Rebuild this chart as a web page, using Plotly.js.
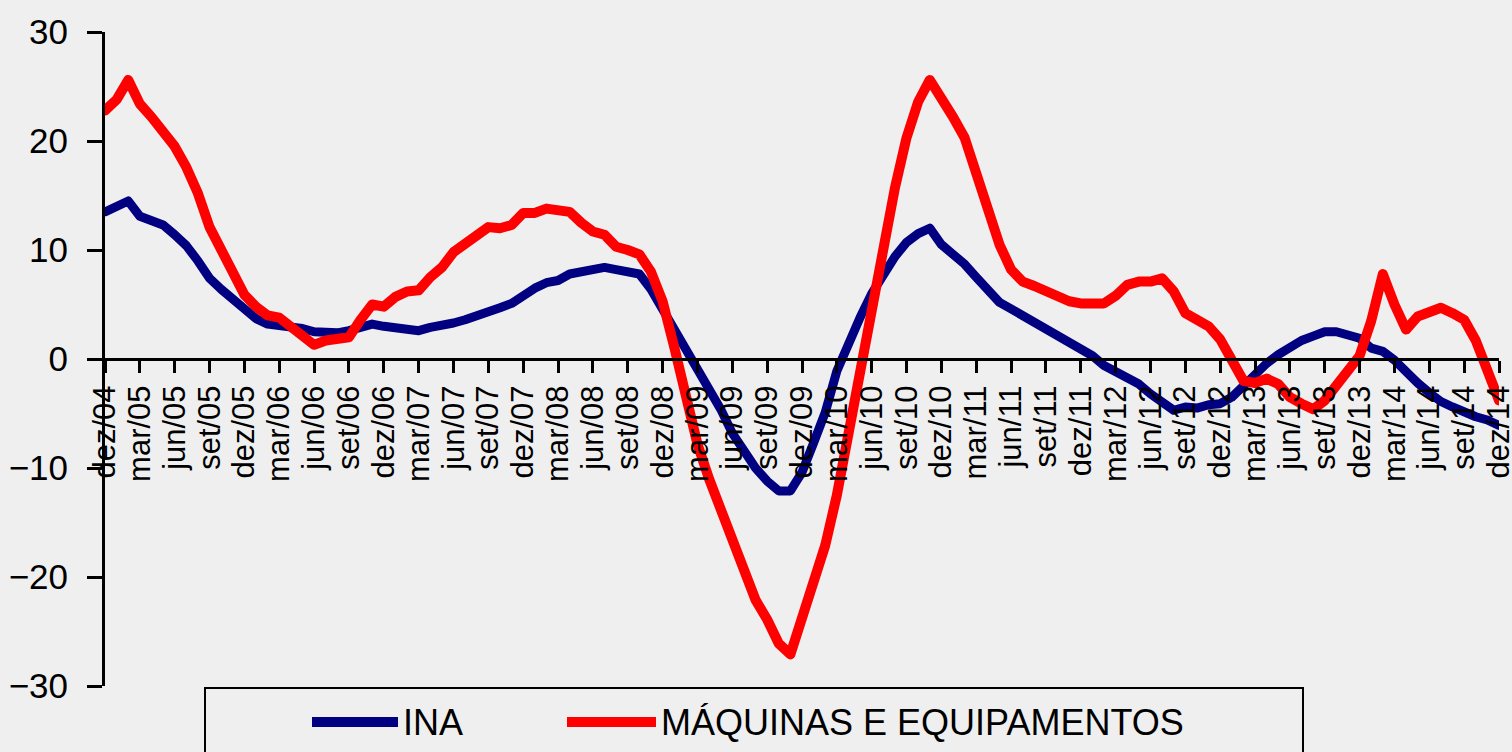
<!DOCTYPE html>
<html>
<head>
<meta charset="utf-8">
<script src="https://cdn.plot.ly/plotly-3.0.1.min.js"></script>
<style>
  html, body { margin: 0; padding: 0; background: #efefef; }
  #chart { width: 1512px; height: 752px; }
  #chart .js-line { stroke-linejoin: round !important; stroke-linecap: round !important; }
</style>
</head>
<body>
<div id="chart"></div>
<script>
// Monthly categories, dez/04 .. dez/14
const months = [
  "dez/04",
  "jan/05","fev/05","mar/05","abr/05","mai/05","jun/05","jul/05","ago/05","set/05","out/05","nov/05","dez/05",
  "jan/06","fev/06","mar/06","abr/06","mai/06","jun/06","jul/06","ago/06","set/06","out/06","nov/06","dez/06",
  "jan/07","fev/07","mar/07","abr/07","mai/07","jun/07","jul/07","ago/07","set/07","out/07","nov/07","dez/07",
  "jan/08","fev/08","mar/08","abr/08","mai/08","jun/08","jul/08","ago/08","set/08","out/08","nov/08","dez/08",
  "jan/09","fev/09","mar/09","abr/09","mai/09","jun/09","jul/09","ago/09","set/09","out/09","nov/09","dez/09",
  "jan/10","fev/10","mar/10","abr/10","mai/10","jun/10","jul/10","ago/10","set/10","out/10","nov/10","dez/10",
  "jan/11","fev/11","mar/11","abr/11","mai/11","jun/11","jul/11","ago/11","set/11","out/11","nov/11","dez/11",
  "jan/12","fev/12","mar/12","abr/12","mai/12","jun/12","jul/12","ago/12","set/12","out/12","nov/12","dez/12",
  "jan/13","fev/13","mar/13","abr/13","mai/13","jun/13","jul/13","ago/13","set/13","out/13","nov/13","dez/13",
  "jan/14","fev/14","mar/14","abr/14","mai/14","jun/14","jul/14","ago/14","set/14","out/14","nov/14","dez/14"
];

// Tick labels (every 3 months)
const tickLabels = [
  "dez/04","mar/05","jun/05","set/05","dez/05","mar/06","jun/06","set/06","dez/06",
  "mar/07","jun/07","set/07","dez/07","mar/08","jun/08","set/08","dez/08",
  "mar/09","jun/09","set/09","dez/09","mar/10","jun/10","set/10","dez/10",
  "mar/11","jun/11","set/11","dez/11","mar/12","jun/12","set/12","dez/12",
  "mar/13","jun/13","set/13","dez/13","mar/14","jun/14","set/14","dez/14"
];

const seriesNames = ["INA", "MÁQUINAS E EQUIPAMENTOS"];

const ina = [
  13.5, 13.9, 14.5, 13.1, 12.7, 12.3, 11.4, 10.4, 9.0, 7.4, 6.4, 5.5, 4.4,
  3.7, 3.2, 3.1, 2.9, 2.8, 2.5, 2.4, 2.4, 2.6, 2.9, 3.2, 3.0,
  2.9, 2.8, 2.6, 2.9, 3.0, 3.3, 3.6, 3.9, 4.2, 4.7, 5.1, 5.9,
  6.5, 7.0, 7.2, 7.8, 8.0, 8.2, 8.4, 8.2, 8.1, 7.8, 6.4, 4.6,
  2.9, 0.8, -1.1, -2.8, -4.6, -6.8, -8.6, -10.0, -11.2, -12.1, -12.1, -10.4,
  -7.7, -4.9, -1.1, 1.6, 3.8, 6.0, 7.8, 9.4, 10.7, 11.5, 12.0, 10.5,
  9.6, 8.7, 7.5, 6.2, 5.2, 4.6, 4.0, 3.4, 2.8, 2.3, 1.6, 1.0,
  0.3, -0.6, -1.2, -1.6, -2.3, -3.2, -4.0, -4.7, -4.4, -4.5, -4.2, -4.1,
  -3.5, -2.5, -1.3, -0.4, 0.4, 1.1, 1.7, 2.1, 2.5, 2.5, 2.2, 1.9,
  1.0, 0.7, -0.1, -1.3, -2.2, -3.1, -3.9, -4.4, -4.9, -5.3, -5.6, -6.1
];

const maquinas = [
  22.8, 23.8, 25.6, 23.4, 22.2, 20.8, 19.5, 17.6, 15.2, 12.1, 10.0, 7.5, 5.9,
  4.8, 4.0, 3.8, 2.9, 2.2, 1.3, 1.7, 1.9, 2.0, 3.6, 5.0, 4.8,
  5.7, 6.2, 6.3, 7.5, 8.4, 9.8, 10.6, 11.5, 12.1, 12.0, 12.3, 13.4,
  13.4, 13.8, 13.7, 13.5, 12.5, 11.7, 11.4, 10.3, 10.0, 9.6, 8.0, 5.3,
  1.1, -3.5, -7.8, -11.0, -13.9, -16.8, -19.6, -22.1, -23.9, -26.1, -27.1, -23.9,
  -21.0, -17.1, -12.5, -6.8, -0.4, 5.3, 10.6, 15.7, 20.3, 23.6, 25.6, 24.0,
  22.2, 20.3, 17.0, 13.5, 10.5, 8.2, 7.1, 6.7, 6.2, 5.8, 5.3, 5.1,
  5.2, 5.1, 5.8, 6.8, 7.1, 7.1, 7.4, 6.2, 4.2, 3.7, 3.0, 1.8,
  -0.3, -2.0, -2.2, -1.8, -2.3, -3.5, -4.1, -4.6, -3.8, -2.4, -1.3, 0.3,
  3.5, 7.8, 5.0, 2.7, 3.9, 4.3, 4.7, 4.2, 3.6, 1.7, -1.3, -3.8
];

const colors = ["#000080", "#ff0000"];

// layout geometry (pixels)
const W = 1512, H = 752;
const M = {l: 105, r: 13, t: 32, b: 66};
const plotW = W - M.l - M.r, plotH = H - M.t - M.b;
const px = x => (x - M.l) / plotW;
const py = y => (H - M.b - y) / plotH;

const FONT = "Liberation Sans, Arial, sans-serif";

const traces = [
  {x: months, y: ina, type: "scatter", mode: "lines", name: seriesNames[0],
   line: {color: colors[0], width: 9}, showlegend: false, hoverinfo: "skip"},
  {x: months, y: maquinas, type: "scatter", mode: "lines", name: seriesNames[1],
   line: {color: colors[1], width: 10}, showlegend: false, hoverinfo: "skip"}
];

const legendY = py(722);
const layout = {
  width: W, height: H,
  margin: M,
  paper_bgcolor: "#efefef",
  plot_bgcolor: "#efefef",
  showlegend: false,
  font: {family: FONT, color: "#000"},
  xaxis: {
    type: "category",
    range: [0, months.length - 1],
    anchor: "free",
    position: 0.5,
    showline: true, linecolor: "#000", linewidth: 3,
    ticks: "outside", ticklen: 12, tickwidth: 3, tickcolor: "#000",
    tickvals: tickLabels, ticktext: tickLabels,
    tickangle: -90,
    tickfont: {family: FONT, size: 31, color: "#000"},
    showgrid: false, zeroline: false
  },
  yaxis: {
    range: [-30, 30],
    tick0: 0, dtick: 10,
    showline: true, linecolor: "#000", linewidth: 3,
    ticks: "outside", ticklen: 15, tickwidth: 3, tickcolor: "#000",
    tickfont: {family: FONT, size: 35, color: "#000"},
    ticklabelstandoff: 12,
    showgrid: false, zeroline: false
  },
  shapes: [
    {type: "rect", xref: "paper", yref: "paper",
     x0: px(205), x1: px(1303), y0: py(688), y1: py(790),
     line: {color: "#000", width: 2}, fillcolor: "rgba(0,0,0,0)"},
    {type: "line", xref: "paper", yref: "paper",
     x0: px(312), x1: px(398), y0: legendY, y1: legendY,
     line: {color: colors[0], width: 10}},
    {type: "line", xref: "paper", yref: "paper",
     x0: px(567), x1: px(656), y0: legendY, y1: legendY,
     line: {color: colors[1], width: 10}}
  ],
  annotations: [
    {xref: "paper", yref: "paper", x: px(401), y: legendY, xanchor: "left", yanchor: "middle",
     text: seriesNames[0], showarrow: false, font: {family: FONT, size: 36, color: "#000"}},
    {xref: "paper", yref: "paper", x: px(659), y: legendY, xanchor: "left", yanchor: "middle",
     text: seriesNames[1], showarrow: false, font: {family: FONT, size: 36, color: "#000"}}
  ]
};

Plotly.newPlot("chart", traces, layout, {staticPlot: true, displayModeBar: false});
</script>
</body>
</html>
